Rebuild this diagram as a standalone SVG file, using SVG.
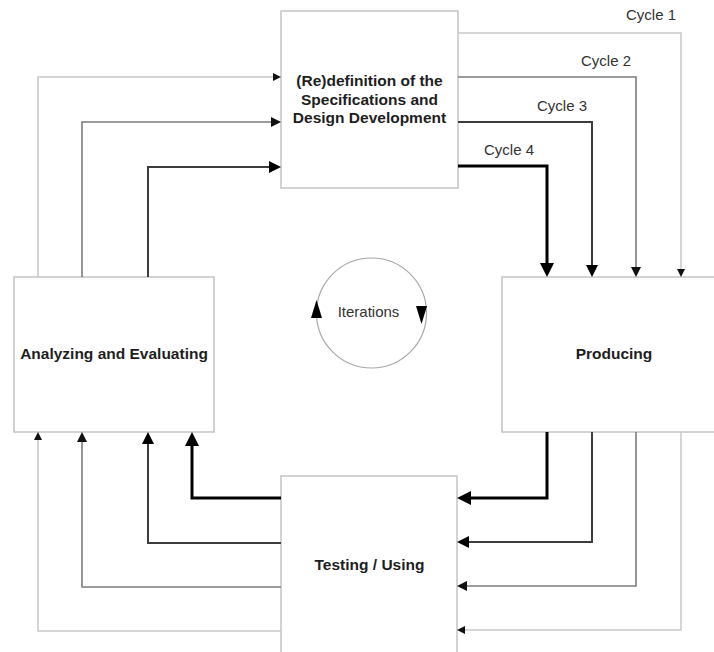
<svg xmlns="http://www.w3.org/2000/svg" width="714" height="652" viewBox="0 0 714 652">
  <style>
    .box { fill: #ffffff; stroke: #c4c4c4; stroke-width: 1.5; }
    .title { font-family: "Liberation Sans", Arial, sans-serif; font-size: 15.5px; font-weight: bold; fill: #1e1e1e; text-anchor: middle; }
    .label { font-family: "Liberation Sans", Arial, sans-serif; font-size: 15px; fill: #333333; text-anchor: middle; }
    .c1 { fill: none; stroke: #c8c8c8; stroke-width: 1.5; marker-end: url(#h1); }
    .c2 { fill: none; stroke: #7c7c7c; stroke-width: 1.6; marker-end: url(#h2); }
    .c3 { fill: none; stroke: #3c3c3c; stroke-width: 2; marker-end: url(#h3); }
    .c4 { fill: none; stroke: #000000; stroke-width: 3; marker-end: url(#h4); }
    .ring { fill: none; stroke: #a8a8a8; stroke-width: 1.2; }
  </style>
  <defs>
    <!-- arrowheads grow with the cycle number -->
    <marker id="h1" markerUnits="userSpaceOnUse" markerWidth="8" markerHeight="8" refX="0" refY="4" orient="auto">
      <path d="M0,0 L8,4 L0,8 z" fill="#111"/>
    </marker>
    <marker id="h2" markerUnits="userSpaceOnUse" markerWidth="10" markerHeight="10" refX="0" refY="5" orient="auto">
      <path d="M0,0 L10,5 L0,10 z" fill="#111"/>
    </marker>
    <marker id="h3" markerUnits="userSpaceOnUse" markerWidth="12" markerHeight="12" refX="0" refY="6" orient="auto">
      <path d="M0,0 L12,6 L0,12 z" fill="#000"/>
    </marker>
    <marker id="h4" markerUnits="userSpaceOnUse" markerWidth="14" markerHeight="14" refX="0" refY="7" orient="auto">
      <path d="M0,0 L14,7 L0,14 z" fill="#000"/>
    </marker>
  </defs>

  <rect width="714" height="652" fill="#ffffff"/>

  <g id="node-specification">
    <rect class="box" x="281" y="11" width="177" height="177"/>
    <text class="title" x="369.5" y="86">(Re)definition of the</text>
    <text class="title" x="369.5" y="104.5">Specifications and</text>
    <text class="title" x="369.5" y="123">Design Development</text>
  </g>

  <g id="node-analyzing">
    <rect class="box" x="14" y="277" width="200" height="155"/>
    <text class="title" x="114" y="359">Analyzing and Evaluating</text>
  </g>

  <g id="node-producing">
    <rect class="box" x="502" y="277" width="226" height="155"/>
    <text class="title" x="614" y="359">Producing</text>
  </g>

  <g id="node-testing">
    <rect class="box" x="281" y="476" width="176" height="190"/>
    <text class="title" x="369.5" y="570">Testing / Using</text>
  </g>

  <g id="iterations">
    <circle class="ring" cx="371.5" cy="313" r="55"/>
    <path d="M316.5,300 L322,318 L311,318 z" fill="#000"/>
    <path d="M421.5,324 L416,306 L427,306 z" fill="#000"/>
    <text class="label" x="368.5" y="317">Iterations</text>
  </g>

  <g id="connectors">
    <!-- Cycle 1 -->
    <path class="c1" d="M458,33 H681 V269"/>
    <path class="c1" d="M681,432 V630 H465"/>
    <path class="c1" d="M281,631 H38 V440"/>
    <path class="c1" d="M38,277 V77 H273"/>
    <!-- Cycle 2 -->
    <path class="c2" d="M458,77 H636 V267"/>
    <path class="c2" d="M636,432 V586 H467"/>
    <path class="c2" d="M281,587 H82 V442"/>
    <path class="c2" d="M82,277 V122 H271"/>
    <!-- Cycle 3 -->
    <path class="c3" d="M458,122 H592 V265"/>
    <path class="c3" d="M592,432 V542 H469"/>
    <path class="c3" d="M281,543 H148 V444"/>
    <path class="c3" d="M148,277 V167 H269"/>
    <!-- Cycle 4 -->
    <path class="c4" d="M458,166 H547 V263"/>
    <path class="c4" d="M547,432 V498 H471"/>
    <path class="c4" d="M281,498 H192 V446"/>
  </g>

  <g id="cycle-labels">
    <text class="label" x="651" y="20">Cycle 1</text>
    <text class="label" x="606" y="66">Cycle 2</text>
    <text class="label" x="562" y="111">Cycle 3</text>
    <text class="label" x="509" y="155">Cycle 4</text>
  </g>
</svg>
